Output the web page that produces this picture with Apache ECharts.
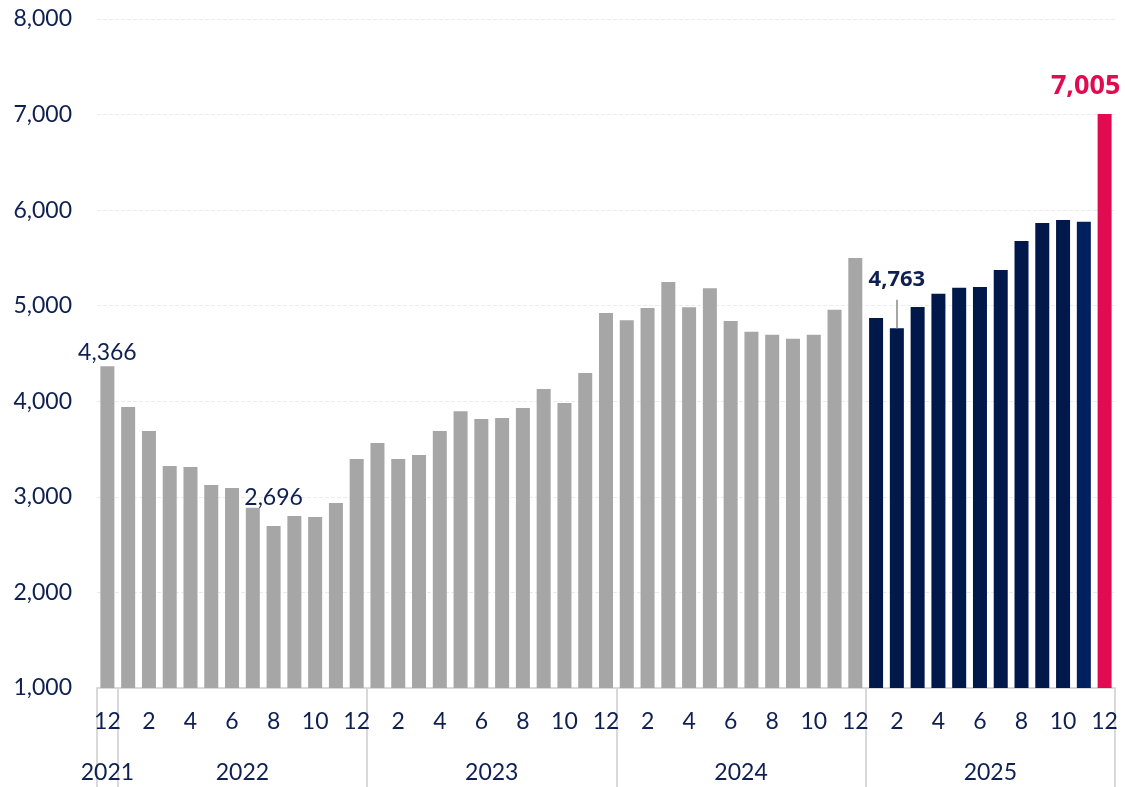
<!DOCTYPE html>
<html>
<head>
<meta charset="utf-8">
<script src="https://cdn.jsdelivr.net/npm/echarts@6/dist/echarts.min.js"></script>
<style>
  html, body { margin: 0; padding: 0; background: #ffffff; }
  #chart { width: 1125px; height: 787px; }
</style>
</head>
<body>
<div id="chart"></div>
<script>
// Monthly periods, December 2021 through December 2025
const periods = [
  '2021-12',
  '2022-01', '2022-02', '2022-03', '2022-04', '2022-05', '2022-06',
  '2022-07', '2022-08', '2022-09', '2022-10', '2022-11', '2022-12',
  '2023-01', '2023-02', '2023-03', '2023-04', '2023-05', '2023-06',
  '2023-07', '2023-08', '2023-09', '2023-10', '2023-11', '2023-12',
  '2024-01', '2024-02', '2024-03', '2024-04', '2024-05', '2024-06',
  '2024-07', '2024-08', '2024-09', '2024-10', '2024-11', '2024-12',
  '2025-01', '2025-02', '2025-03', '2025-04', '2025-05', '2025-06',
  '2025-07', '2025-08', '2025-09', '2025-10', '2025-11', '2025-12'
];

// Monthly values
const values = [
  4366,
  3939, 3688, 3322, 3312, 3123, 3092, 2886, 2696, 2799, 2789, 2935, 3395,
  3563, 3395, 3437, 3688, 3897, 3814, 3824, 3929, 4128, 3981, 4295, 4923,
  4849, 4975, 5247, 4985, 5184, 4839, 4727, 4697, 4655, 4697, 4957, 5499,
  4872, 4763, 4987, 5124, 5188, 5196, 5375, 5678, 5866, 5896, 5878, 7005
];

// Year labels on the second axis row
const yearLabels = ['2021', '2022', '2023', '2024', '2025'];

// Y-axis range
const yTicks = [1000, 2000, 3000, 4000, 5000, 6000, 7000, 8000];

// Periods whose value is written above the bar
const plainCallouts = ['2021-12', '2022-08'];
const boldCallouts = ['2025-02'];
const highlightPeriod = '2025-12';

const TEXT = '#0e1f52';
const GREY = '#a6a6a6';
const NAVY = '#00194a';
const NAVY_LIGHT = '#00205f';
const CRIMSON = '#e00b50';
const RULE = '#d9d9d9';

const yearOf = p => p.slice(0, 4);
const monthOf = p => parseInt(p.slice(5), 10);

// Centre of each year's run of bars (in category-index units)
const yearCentres = yearLabels.map(y => {
  const idx = periods.map((p, i) => yearOf(p) === y ? i : -1).filter(i => i >= 0);
  return (idx[0] + idx[idx.length - 1]) / 2;
});

// Separator ticks at the start of each year
const isYearStart = i => i === 0 || yearOf(periods[i]) !== yearOf(periods[i - 1]);

function barColor(p) {
  if (p === highlightPeriod) return CRIMSON;
  if (yearOf(p) !== '2025') return GREY;
  return monthOf(p) === 11 ? NAVY_LIGHT : NAVY;
}

const fmt = v => Number(v).toLocaleString('en-US');

const barData = values.map((v, i) => {
  const p = periods[i];
  const item = { value: v, itemStyle: { color: barColor(p) } };
  if (plainCallouts.includes(p)) {
    item.label = {
      show: true, position: 'top',
      distance: p === '2022-08' ? 17 : 2,
      fontFamily: 'Lato', fontSize: 23, color: TEXT,
      formatter: d => fmt(d.value)
    };
  } else if (boldCallouts.includes(p)) {
    item.label = {
      show: true, position: 'top', distance: 38,
      fontFamily: 'Open Sans', fontWeight: 'bold', fontSize: 22, color: TEXT,
      formatter: d => fmt(d.value)
    };
  } else if (p === highlightPeriod) {
    item.label = {
      show: true, position: 'top', distance: 14, offset: [-19, 0],
      fontFamily: 'Open Sans', fontWeight: 'bold', fontSize: 27, color: CRIMSON,
      formatter: d => fmt(d.value)
    };
  }
  return item;
});

const leaderPeriod = boldCallouts[0];
const leaderValue = values[periods.indexOf(leaderPeriod)];

const chart = echarts.init(document.getElementById('chart'), null, { renderer: 'canvas' });

chart.setOption({
  animation: false,
  backgroundColor: '#ffffff',
  grid: {
    left: 97, right: 10, top: 19, bottom: 99,
    containLabel: false,
    outerBoundsMode: 'none'
  },
  xAxis: [
    {
      type: 'category',
      data: periods,
      boundaryGap: true,
      axisLine: { show: true, onZero: false, lineStyle: { color: RULE, width: 2 } },
      axisTick: {
        show: true,
        interval: (i) => isYearStart(i),
        length: 100,
        lineStyle: { color: RULE, width: 2 }
      },
      axisLabel: {
        interval: 1,
        margin: 22,
        fontFamily: 'Lato',
        fontSize: 23,
        color: TEXT,
        formatter: p => String(monthOf(p))
      },
      splitLine: { show: false }
    },
    {
      type: 'value',
      position: 'bottom',
      min: -0.5,
      max: periods.length - 0.5,
      interval: 0.5,
      axisLine: { show: false, onZero: false },
      axisTick: { show: false },
      splitLine: { show: false },
      axisLabel: {
        margin: 73,
        fontFamily: 'Lato',
        fontSize: 23,
        color: TEXT,
        showMinLabel: true,
        showMaxLabel: true,
        formatter: v => {
          const k = yearCentres.findIndex(c => Math.abs(c - v) < 1e-6);
          return k >= 0 ? yearLabels[k] : '';
        }
      }
    }
  ],
  yAxis: {
    type: 'value',
    min: yTicks[0],
    max: yTicks[yTicks.length - 1],
    interval: yTicks[1] - yTicks[0],
    axisLine: { show: false },
    axisTick: { show: false },
    axisLabel: {
      margin: 25,
      fontFamily: 'Lato',
      fontSize: 23,
      color: TEXT,
      formatter: v => fmt(v)
    },
    splitLine: { show: true, lineStyle: { color: '#ebebeb', type: 'dashed', width: 1 } }
  },
  series: [
    {
      type: 'bar',
      xAxisIndex: 0,
      yAxisIndex: 0,
      data: barData,
      barWidth: 14,
      markLine: {
        silent: true,
        symbol: ['none', 'none'],
        label: { show: false },
        lineStyle: { color: GREY, width: 2, type: 'solid' },
        data: [[
          { coord: [leaderPeriod, leaderValue] },
          { coord: [leaderPeriod, leaderValue + 300] }
        ]]
      }
    }
  ]
});
</script>
</body>
</html>
